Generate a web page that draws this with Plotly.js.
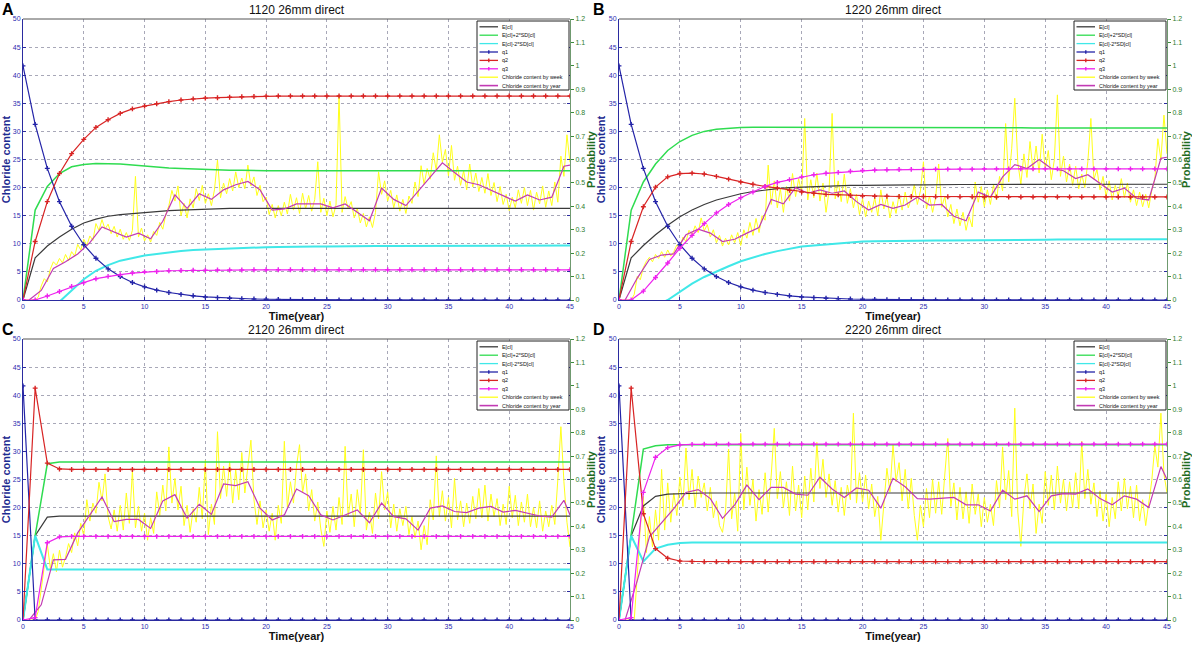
<!DOCTYPE html>
<html><head><meta charset="utf-8">
<script src="https://cdn.plot.ly/plotly-3.0.1.min.js"></script>
<style>html,body{margin:0;padding:0;background:#fff;}#chart{width:1192px;height:646px;}</style>
</head><body><div id="chart"></div>
<script>
// ---------- data ----------
const yearTicks = [0,5,10,15,20,25,30,35,40,45];
const panelTitles = ['1120 26mm direct','1220 26mm direct','2120 26mm direct','2220 26mm direct'];
const panelLetters = ['A','B','C','D'];
const legendNames = ['E[cl]','E[cl]+2*SD[cl]','E[cl]-2*SD[cl]','q1','q2','q3','Chloride content by week','Chloride content by year'];

// values at t = 0,1,...,45 (years)
const A_E  = [0,7.5,9.6,11.2,12.6,13.7,14.4,14.9,15.2,15.4,15.6,15.8,15.9,16.0,16.1,16.2,16.2,16.3,16.3,16.3,16.3,16.3,16.3,16.3,16.3,16.3,16.3,16.3,16.3,16.3,16.3,16.3,16.3,16.3,16.3,16.3,16.3,16.3,16.3,16.3,16.3,16.3,16.3,16.3,16.3,16.3];
const A_Ep = [0,16,20.2,22.5,23.7,24.1,24.3,24.3,24.2,24.0,23.8,23.6,23.5,23.4,23.3,23.2,23.2,23.1,23.1,23.0,23.0,23.0,23.0,23.0,23.0,23.0,23.0,23.0,23.0,23.0,23.0,23.0,23.0,23.0,23.0,23.0,23.0,23.0,23.0,23.0,23.0,23.0,23.0,23.0,23.0,23.0];
const A_Em = [0,-1.0,-1.0,-0.3,1.7,3.7,5.2,6.2,7.0,7.5,7.9,8.2,8.5,8.7,8.9,9.0,9.1,9.2,9.3,9.35,9.4,9.45,9.5,9.5,9.5,9.5,9.55,9.55,9.55,9.6,9.6,9.6,9.6,9.6,9.6,9.65,9.65,9.65,9.65,9.65,9.7,9.7,9.7,9.7,9.7,9.7];
const A_q1 = [1,0.75,0.562,0.42,0.315,0.236,0.178,0.133,0.1,0.075,0.056,0.042,0.032,0.024,0.018,0.013,0.01,0.0075,0.0056,0.0042,0.0032,0.0024,0.0018,0.0013,0.001,0.0008,0.0006,0.0004,0.0003,0.0002,0.0002,0,0,0,0,0,0,0,0,0,0,0,0,0,0,0];
const A_q2 = [0,0.25,0.42,0.54,0.625,0.686,0.737,0.77,0.797,0.816,0.828,0.838,0.847,0.854,0.859,0.862,0.864,0.866,0.868,0.869,0.87,0.871,0.871,0.871,0.871,0.871,0.871,0.871,0.871,0.871,0.871,0.871,0.871,0.871,0.871,0.871,0.871,0.871,0.871,0.871,0.871,0.871,0.871,0.871,0.871,0.871];
const A_q3 = [0,0,0.017,0.036,0.058,0.074,0.091,0.101,0.108,0.115,0.12,0.122,0.125,0.126,0.127,0.127,0.128,0.128,0.128,0.129,0.129,0.129,0.129,0.129,0.129,0.129,0.129,0.129,0.129,0.129,0.129,0.129,0.129,0.129,0.129,0.129,0.129,0.129,0.129,0.129,0.129,0.129,0.129,0.129,0.129,0.129];

const B_E  = [0,7.5,9.7,11.6,13.3,14.8,16.0,17.0,17.8,18.4,18.9,19.3,19.6,19.8,20.0,20.1,20.2,20.3,20.35,20.4,20.4,20.45,20.5,20.5,20.5,20.5,20.55,20.55,20.55,20.55,20.55,20.6,20.6,20.6,20.6,20.6,20.6,20.6,20.6,20.6,20.6,20.6,20.6,20.6,20.6,20.6];
const B_Ep = [0,16,21.0,24.2,26.6,28.2,29.3,30.0,30.4,30.6,30.7,30.75,30.75,30.7,30.7,30.7,30.7,30.7,30.7,30.7,30.7,30.7,30.7,30.7,30.65,30.65,30.65,30.65,30.65,30.65,30.65,30.65,30.65,30.65,30.6,30.6,30.6,30.6,30.6,30.6,30.6,30.6,30.6,30.6,30.6,30.6];
const B_Em = [0,-1.0,-1.6,-1.0,0.0,1.5,2.9,4.1,5.1,6.0,6.9,7.6,8.2,8.7,9.1,9.5,9.7,9.9,10.1,10.3,10.4,10.45,10.5,10.5,10.55,10.55,10.6,10.6,10.6,10.65,10.65,10.65,10.7,10.7,10.7,10.7,10.75,10.75,10.75,10.75,10.8,10.8,10.8,10.8,10.8,10.8];
const B_q1 = [1,0.75,0.562,0.42,0.315,0.236,0.178,0.133,0.1,0.075,0.056,0.042,0.032,0.024,0.018,0.013,0.01,0.0075,0.0056,0.0042,0.0032,0.0024,0.0018,0.0013,0.001,0.0008,0.0006,0.0004,0.0003,0.0002,0.0002,0,0,0,0,0,0,0,0,0,0,0,0,0,0,0];
const B_q2 = [0,0.25,0.398,0.482,0.526,0.54,0.542,0.538,0.528,0.516,0.504,0.494,0.485,0.478,0.468,0.461,0.456,0.451,0.449,0.446,0.444,0.443,0.443,0.442,0.442,0.442,0.441,0.441,0.441,0.441,0.44,0.44,0.44,0.44,0.44,0.44,0.44,0.44,0.44,0.44,0.44,0.44,0.44,0.44,0.44,0.44];
const B_q3 = [0,0,0.038,0.096,0.158,0.221,0.276,0.326,0.372,0.408,0.437,0.461,0.485,0.502,0.514,0.526,0.535,0.541,0.545,0.55,0.553,0.555,0.556,0.557,0.558,0.558,0.559,0.559,0.559,0.559,0.56,0.56,0.56,0.56,0.56,0.56,0.56,0.56,0.56,0.56,0.56,0.56,0.56,0.56,0.56,0.56];

const C_E  = [0,15,18.3,18.5,18.5,18.5,18.5,18.5,18.5,18.5,18.5,18.5,18.5,18.5,18.5,18.5,18.5,18.5,18.5,18.5,18.5,18.5,18.5,18.5,18.5,18.5,18.5,18.5,18.5,18.5,18.5,18.5,18.5,18.5,18.5,18.5,18.5,18.5,18.5,18.5,18.5,18.5,18.5,18.5,18.5,18.5];
const C_Ep = [0,15,27.8,28.1,28.1,28.1,28.1,28.1,28.1,28.1,28.1,28.1,28.1,28.1,28.1,28.1,28.1,28.1,28.1,28.1,28.1,28.1,28.1,28.1,28.1,28.1,28.1,28.1,28.1,28.1,28.1,28.1,28.1,28.1,28.1,28.1,28.1,28.1,28.1,28.1,28.1,28.1,28.1,28.1,28.1,28.1];
const C_Em = [0,15,9.0,9.0,9.0,9.0,9.0,9.0,9.0,9.0,9.0,9.0,9.0,9.0,9.0,9.0,9.0,9.0,9.0,9.0,9.0,9.0,9.0,9.0,9.0,9.0,9.0,9.0,9.0,9.0,9.0,9.0,9.0,9.0,9.0,9.0,9.0,9.0,9.0,9.0,9.0,9.0,9.0,9.0,9.0,9.0];
const C_q1 = [1,0,0,0,0,0,0,0,0,0,0,0,0,0,0,0,0,0,0,0,0,0,0,0,0,0,0,0,0,0,0,0,0,0,0,0,0,0,0,0,0,0,0,0,0,0];
const C_q2 = [0,0.99,0.67,0.645,0.643,0.643,0.643,0.643,0.643,0.643,0.643,0.643,0.643,0.643,0.643,0.643,0.643,0.643,0.643,0.643,0.643,0.643,0.643,0.643,0.643,0.643,0.643,0.643,0.643,0.643,0.643,0.643,0.643,0.643,0.643,0.643,0.643,0.643,0.643,0.643,0.643,0.643,0.643,0.643,0.643,0.643];
const C_q3 = [0,0.01,0.33,0.355,0.357,0.357,0.357,0.357,0.357,0.357,0.357,0.357,0.357,0.357,0.357,0.357,0.357,0.357,0.357,0.357,0.357,0.357,0.357,0.357,0.357,0.357,0.357,0.357,0.357,0.357,0.357,0.357,0.357,0.357,0.357,0.357,0.357,0.357,0.357,0.357,0.357,0.357,0.357,0.357,0.357,0.357];

const D_E  = [0,15,20.3,22.0,22.4,22.5,22.6,22.6,22.6,22.6,22.6,22.6,22.6,22.6,22.6,22.6,22.6,22.6,22.6,22.6,22.6,22.6,22.6,22.6,22.6,22.6,22.6,22.6,22.6,22.6,22.6,22.6,22.6,22.6,22.6,22.6,22.6,22.6,22.6,22.6,22.6,22.6,22.6,22.6,22.6,22.6];
const D_Ep = [0,15,30.4,31.0,31.2,31.2,31.2,31.2,31.2,31.2,31.2,31.2,31.2,31.2,31.2,31.2,31.2,31.2,31.2,31.2,31.2,31.2,31.2,31.2,31.2,31.2,31.2,31.2,31.2,31.2,31.2,31.2,31.2,31.2,31.2,31.2,31.2,31.2,31.2,31.2,31.2,31.2,31.2,31.2,31.2,31.2];
const D_Em = [0,15,10.4,12.7,13.4,13.7,13.8,13.8,13.8,13.8,13.8,13.8,13.8,13.8,13.8,13.8,13.8,13.8,13.8,13.8,13.8,13.8,13.8,13.8,13.8,13.8,13.8,13.8,13.8,13.8,13.8,13.8,13.8,13.8,13.8,13.8,13.8,13.8,13.8,13.8,13.8,13.8,13.8,13.8,13.8,13.8];
const D_q1 = [1,0,0,0,0,0,0,0,0,0,0,0,0,0,0,0,0,0,0,0,0,0,0,0,0,0,0,0,0,0,0,0,0,0,0,0,0,0,0,0,0,0,0,0,0,0];
const D_q2 = [0,0.99,0.454,0.305,0.264,0.252,0.25,0.249,0.249,0.249,0.249,0.249,0.249,0.249,0.249,0.249,0.249,0.249,0.249,0.249,0.249,0.249,0.249,0.249,0.249,0.249,0.249,0.249,0.249,0.249,0.249,0.249,0.249,0.249,0.249,0.249,0.249,0.249,0.249,0.249,0.249,0.249,0.249,0.249,0.249,0.249];
const D_q3 = [0,0.01,0.545,0.695,0.736,0.748,0.75,0.751,0.751,0.751,0.751,0.751,0.751,0.751,0.751,0.751,0.751,0.751,0.751,0.751,0.751,0.751,0.751,0.751,0.751,0.751,0.751,0.751,0.751,0.751,0.751,0.751,0.751,0.751,0.751,0.751,0.751,0.751,0.751,0.751,0.751,0.751,0.751,0.751,0.751,0.751];

// yearly chloride content: t = 0.5,1.5,...,44.5 and 45
const A_year = [0,1.7,5.6,6.8,8.2,10.2,13.0,12.1,11.2,11.9,10.9,14.0,18.7,16.3,18.9,17.9,19.6,20.5,21.1,19.6,16.0,16.2,17.1,17.1,17.1,16.4,17.1,15.6,14.1,19.9,17.9,16.8,19.4,21.9,24.4,22.7,21.0,20.5,19.5,18.5,17.6,18.7,17.8,18.3,23.8,24.0];
const B_year = [0,3.9,7.2,8.0,8.2,11.6,12.6,11.9,10.4,10.8,11.9,12.9,17.9,17.1,20.0,19.0,19.6,19.0,19.4,17.5,16.0,17.0,16.3,16.9,18.3,16.9,17.0,14.9,14.1,19.2,18.3,21.9,24.1,23.4,25.0,23.4,23.0,21.6,22.3,20.7,19.2,19.9,18.1,17.8,25.2,25.4];
const C_year = [0,2.7,10.7,10.8,15.5,18.8,21.9,17.5,17.9,17.9,16.3,21.2,22.3,18.1,20.6,18.8,24.2,23.9,24.6,19.9,17.8,18.7,23.3,22.1,18.7,17.8,18.7,19.6,17.3,20.8,18.4,18.0,16.0,19.9,20.3,19.3,19.1,19.9,20.2,19.2,19.5,19.0,18.5,18.3,21.3,18.7];
const D_year = [0,7.0,14.8,17.3,19.8,22.7,23.2,21.6,18.1,20.5,24.0,21.4,23.6,23.6,22.4,22.2,25.4,23.3,21.8,23.5,23.1,19.9,25.2,23.7,21.6,21.5,21.6,21.8,20.5,20.5,19.4,23.1,21.5,22.1,19.3,22.1,22.5,22.4,23.3,21.6,20.5,22.1,21.5,20.0,27.3,25.0];

// chloride content sampled each quarter year: t = 0,0.25,...,45 (one row per year)
const A_week = [
0,0,0,0, 0,0.5,2.5,3.8, 3.2,5.5,6.8,6.2, 7.4,6.6,8.1,7.0, 8.6,7.8,9.9,8.9,
10.8,9.7,11.4,10.6, 13.6,12.4,14.3,12.6, 13.5,11.8,13.1,11.2, 12.6,10.8,12.0,10.6, 12.4,22.0,11.2,12.8,
10.5,11.6,10.3,12.2, 11.5,13.8,12.6,15.2, 16.8,19.5,17.6,20.3, 15.0,17.2,14.6,18.0, 16.4,19.8,17.7,20.4,
17.2,18.9,16.8,19.6, 24.9,18.2,20.8,18.9, 21.6,19.4,22.8,20.0, 21.7,19.8,24.0,20.3, 21.9,18.6,20.4,17.5,
18.3,15.2,17.0,14.6, 16.8,15.0,17.4,15.3, 18.8,16.0,18.2,15.4, 19.0,16.2,18.6,15.8, 17.9,24.6,15.6,18.1,
15.0,17.6,14.8,16.9, 36.5,15.6,18.4,16.2, 17.5,14.6,16.3,13.7, 15.4,13.0,14.8,12.9, 15.6,22.8,18.8,21.2,
17.6,19.5,16.4,18.7, 15.8,17.9,15.4,18.5, 17.2,21.0,18.4,23.9, 20.6,23.4,21.5,26.2, 23.0,29.4,24.5,26.8,
22.1,27.5,21.3,23.8, 20.4,23.0,19.6,24.2, 20.1,22.6,19.3,21.8, 19.0,22.5,18.6,20.9, 17.5,20.2,17.0,18.8,
15.9,18.3,16.4,19.6, 17.2,20.0,16.8,19.5, 16.0,19.2,17.1,20.3, 16.5,19.4,16.8,21.0, 17.4,25.6,22.0,29.4,
24.5];
const B_week = [
0,0,0,0, 0,1.0,4.2,3.6, 5.8,6.9,7.6,6.8, 8.1,7.4,8.6,7.6, 8.9,7.8,8.6,9.8,
9.2,11.2,10.4,12.4, 11.6,13.2,12.0,14.6, 12.3,13.4,11.2,12.5, 10.2,11.5,9.6,11.0, 9.8,11.6,10.2,12.0,
9.7,12.5,11.0,13.8, 11.5,14.5,12.0,15.0, 14.2,24.0,17.0,21.2, 16.4,19.8,15.6,20.2, 17.6,22.5,18.4,21.6,
19.0,32.3,17.8,21.4, 18.2,22.6,17.6,20.8, 15.6,19.4,33.2,18.0, 21.2,17.5,22.4,17.2, 19.8,16.4,18.8,15.2,
18.0,14.8,17.6,15.6, 18.2,15.0,19.6,16.2, 18.4,14.6,17.5,15.4, 18.8,16.0,19.2,16.4, 18.0,20.5,17.0,19.4,
24.6,16.2,18.5,15.6, 18.2,24.2,16.5,18.4, 14.8,17.0,13.6,16.2, 13.2,15.6,12.4,14.8, 13.0,21.0,17.4,20.2,
16.6,19.6,17.0,20.5, 17.8,22.0,19.4,31.4, 21.0,27.0,35.9,24.4, 20.6,26.0,21.8,28.2, 23.0,27.4,22.6,29.5,
23.2,26.6,21.4,25.0, 36.5,22.0,25.6,21.0, 24.2,20.4,23.8,19.8, 22.4,20.0,24.6,32.3, 21.5,23.2,19.6,22.0,
18.4,21.2,17.8,20.4, 18.5,21.6,18.2,20.8, 17.4,19.6,16.8,19.2, 16.6,18.8,16.4,19.5, 21.5,28.7,25.0,32.9,
26.0];
const C_week = [
0,0,0,0, 0,1.5,5.5,9.0, 13.5,9.2,11.8,8.6, 12.4,9.4,11.2,13.6, 12.0,15.5,13.2,17.2,
15.0,21.4,17.6,20.8, 19.0,24.5,21.2,26.0, 18.4,16.2,19.6,15.8, 20.4,16.0,22.6,17.2, 26.5,16.4,20.2,15.8,
19.0,14.2,18.2,15.4, 22.8,18.6,24.0,19.4, 30.8,20.8,25.2,19.6, 23.8,16.8,20.4,15.6, 19.8,17.4,23.6,18.0,
28.4,15.2,20.6,17.0, 33.5,21.6,27.4,22.0, 28.2,20.8,26.8,21.4, 29.8,22.6,27.2,32.0, 21.4,17.0,21.2,16.4,
19.6,15.8,19.0,14.2, 20.4,17.2,31.8,20.0, 24.6,20.8,27.4,31.2, 22.6,26.0,19.4,23.2, 17.6,21.0,16.2,13.1,
19.4,15.6,20.2,16.0, 21.8,17.0,30.9,18.4, 22.4,16.6,23.2,18.8, 30.3,16.0,19.2,15.4, 22.6,18.0,26.4,19.6,
22.8,16.4,20.6,15.8, 19.8,16.8,20.2,15.2, 18.4,14.6,17.6,12.5, 16.8,13.4,21.4,17.8, 29.2,18.4,23.0,17.6,
21.8,16.4,25.2,17.8, 21.2,16.6,20.8,17.2, 22.0,18.0,23.4,18.2, 24.0,17.6,22.4,18.4, 21.6,16.8,20.6,17.0,
23.8,18.2,22.2,16.8, 21.0,17.4,22.4,16.6, 20.0,16.4,21.2,15.8, 19.4,16.6,20.4,17.0, 25.0,34.4,24.6,17.4,
13.0];
const D_week = [
0,0,0,0, 0,0,8.0,16.5, 22.0,12.0,18.4,13.0, 19.6,14.2,26.8,16.0, 24.4,17.4,22.6,18.6,
25.4,20.2,30.6,21.4, 26.8,20.0,25.6,21.8, 24.4,19.4,23.6,18.2, 21.2,16.8,15.6,19.4, 30.4,18.0,22.6,15.8,
33.2,19.6,27.2,20.4, 25.0,17.6,23.2,18.8, 26.2,19.2,25.8,34.1, 21.6,26.4,20.0,24.6, 18.6,27.4,19.4,24.0,
18.2,25.6,19.6,27.0, 21.0,31.6,23.4,28.6, 21.8,26.0,20.4,24.8, 19.2,23.6,18.6,24.0, 21.4,36.8,20.8,26.2,
21.0,25.8,19.8,24.2, 18.4,22.0,14.2,20.6, 27.0,22.8,31.2,24.6, 28.0,21.2,26.8,19.8, 25.2,18.6,14.2,20.4,
16.6,23.4,18.2,25.0, 19.0,24.6,18.8,25.8, 32.3,20.2,24.4,17.8, 23.6,18.0,22.8,17.2, 24.2,18.8,22.4,16.6,
21.8,17.4,20.6,16.8, 24.8,20.0,30.8,21.4, 26.6,18.4,37.7,19.2, 13.1,21.6,26.0,19.8, 24.2,15.4,20.6,17.2,
26.4,20.4,25.8,19.6, 27.4,20.8,25.0,19.4, 24.6,20.0,26.2,19.8, 31.8,21.6,26.8,20.6, 24.4,18.4,23.0,17.6,
22.4,16.6,21.8,18.0, 24.6,19.4,25.2,19.8, 23.8,18.2,24.0,17.6, 21.4,16.8,20.4,24.8, 31.0,27.2,36.8,26.0,
22.6];

// ---------- construction ----------
const tYear = A_E.map((_, i) => i);
const tHalf = A_year.map((_, i) => (i < A_year.length - 1 ? i + 0.5 : 45));
const tWeek = A_week.map((_, i) => i * 0.25);

const COL = {E:'#3a3a3a', Ep:'#2fdc50', Em:'#40e8e8', q1:'#2424a8', q2:'#d82424', q3:'#ee22ee', week:'#ffff1a', year:'#c23ab4'};
const FONT = 'Liberation Sans, Arial, sans-serif';

const L = 23, R = 1167, T = 19, B = 620;
const fx = px => (px - L) / (R - L);
const fy = py => (B - py) / (B - T);

const panels = [
  {E:A_E, Ep:A_Ep, Em:A_Em, q1:A_q1, q2:A_q2, q3:A_q3, week:A_week, year:A_year, px:[23,570], py:[19,300]},
  {E:B_E, Ep:B_Ep, Em:B_Em, q1:B_q1, q2:B_q2, q3:B_q3, week:B_week, year:B_year, px:[619,1167], py:[19,300]},
  {E:C_E, Ep:C_Ep, Em:C_Em, q1:C_q1, q2:C_q2, q3:C_q3, week:C_week, year:C_year, px:[23,570], py:[339,620]},
  {E:D_E, Ep:D_Ep, Em:D_Em, q1:D_q1, q2:D_q2, q3:D_q3, week:D_week, year:D_year, px:[619,1167], py:[339,620]}
];

const traces = [];
const layout = {
  width: 1192, height: 646,
  margin: {l: L, r: 1192 - R, t: T, b: 646 - B, pad: 0},
  paper_bgcolor: '#fff', plot_bgcolor: '#fff',
  showlegend: false, hovermode: false,
  font: {family: FONT, size: 7, color: '#222'},
  annotations: [], shapes: []
};

panels.forEach((p, k) => {
  const xa = k === 0 ? 'x' : 'x' + (k + 1);
  const yl = k === 0 ? 'y' : 'y' + (2 * k + 1);
  const yr = 'y' + (2 * k + 2);
  const line = (x, y, c, w, ax) => ({type:'scatter', mode:'lines', x:x, y:y, xaxis:xa, yaxis:ax || yl,
    line:{color:c, width:w}, hoverinfo:'skip'});
  const qline = (y, c) => ({type:'scatter', mode:'lines+markers', x:tYear, y:y, xaxis:xa, yaxis:yr,
    line:{color:c, width:1.2}, marker:{symbol:'cross-thin', size:3.5, line:{color:c, width:1.4}}, hoverinfo:'skip'});

  traces.push(line(tWeek, p.week, COL.week, 1));
  traces.push(line(tYear, p.E, COL.E, 1.2));
  traces.push(line(tYear, p.Ep, COL.Ep, 1.5));
  traces.push(line(tYear, p.Em, COL.Em, 2));
  traces.push(line(tHalf, p.year, COL.year, 1.2));
  traces.push(qline(p.q1, COL.q1));
  traces.push(qline(p.q2, COL.q2));
  traces.push(qline(p.q3, COL.q3));

  const xKey = 'xaxis' + (k === 0 ? '' : k + 1);
  const ylKey = 'yaxis' + (k === 0 ? '' : 2 * k + 1);
  const yrKey = 'yaxis' + (2 * k + 2);

  layout[xKey] = {
    domain: [fx(p.px[0]), fx(p.px[1])], anchor: yl, range: [0, 45],
    tickvals: yearTicks, ticks: 'inside', ticklen: 3, tickcolor: '#2b2ba0',
    showline: true, linecolor: '#2b2ba0', linewidth: 1, zeroline: false,
    showgrid: true, gridcolor: '#a8a8b8', griddash: 'dot', gridwidth: 1,
    tickfont: {size: 7, color: '#2b2bb0', family: FONT}, automargin: false,
    title: {text: 'Time(year)', font: {size: 11, color: '#111', family: FONT, weight: 'bold'}, standoff: 2}
  };
  layout[ylKey] = {
    domain: [fy(p.py[1]), fy(p.py[0])], anchor: xa, range: [0, 50], dtick: 5, tick0: 0,
    ticks: 'inside', ticklen: 3, tickcolor: '#2b2ba0', mirror: 'ticks',
    showline: true, linecolor: '#2b2ba0', linewidth: 1, zeroline: false,
    showgrid: true, gridcolor: '#a8a8b8', griddash: 'dot', gridwidth: 1,
    tickfont: {size: 7, color: '#2b2bb0', family: FONT}, automargin: false,
    title: {text: 'Chloride content', font: {size: 11, color: '#1c2a90', family: FONT, weight: 'bold'}, standoff: 0}
  };
  layout[yrKey] = {
    overlaying: yl, side: 'right', anchor: xa, range: [0, 1.2], dtick: 0.1, tick0: 0,
    ticks: 'outside', ticklen: 3, tickcolor: '#3c8c3c',
    showline: true, linecolor: '#6f9a6f', linewidth: 1, zeroline: false, showgrid: false,
    tickfont: {size: 7, color: '#2e7d2e', family: FONT}, automargin: false,
    title: {text: 'Probability', font: {size: 11, color: '#1f6b1f', family: FONT, weight: 'bold'}, standoff: 2}
  };

  // top frame line
  layout.shapes.push({type:'line', xref:'paper', yref:'paper', x0:fx(p.px[0]), x1:fx(p.px[1]), y0:fy(p.py[0]), y1:fy(p.py[0]),
    line:{color:'#555', width:1}});

  // panel title and letter
  layout.annotations.push({xref:'paper', yref:'paper', x:fx((p.px[0]+p.px[1])/2), y:fy(p.py[0]-9), text:panelTitles[k],
    showarrow:false, xanchor:'center', yanchor:'middle', font:{size:12, color:'#111', family:FONT}});
  layout.annotations.push({xref:'paper', yref:'paper', x:fx(p.px[0]-(k % 2 ? 28 : 23)), y:fy(p.py[0]-10), text:panelLetters[k],
    showarrow:false, xanchor:'left', yanchor:'middle', font:{size:16, color:'#000', family:FONT, weight:'bold'}});

  // legend box
  const bl = p.px[1] - 93, br = p.px[1] - 1, bt = p.py[0] + 2, bb = p.py[0] + 71;
  layout.shapes.push({type:'rect', xref:'paper', yref:'paper', x0:fx(bl), x1:fx(br), y0:fy(bb), y1:fy(bt),
    fillcolor:'#fff', line:{color:'#222', width:1}});
  const sampleCols = [COL.E, COL.Ep, COL.Em, COL.q1, COL.q2, COL.q3, COL.week, COL.year];
  legendNames.forEach((name, i) => {
    const yy = bt + 5.8 + 8.4 * i;
    layout.shapes.push({type:'line', xref:'paper', yref:'paper', x0:fx(bl + 2.5), x1:fx(bl + 21), y0:fy(yy), y1:fy(yy),
      line:{color:sampleCols[i], width: i === 7 ? 1.6 : 1.3}});
    if (i >= 3 && i <= 5) {
      layout.shapes.push({type:'line', xref:'paper', yref:'paper', x0:fx(bl + 11.8), x1:fx(bl + 11.8), y0:fy(yy - 1.8), y1:fy(yy + 1.8),
        line:{color:sampleCols[i], width:1.4}});
    }
    layout.annotations.push({xref:'paper', yref:'paper', x:fx(bl + 23), y:fy(yy), text:name, showarrow:false,
      xanchor:'left', yanchor:'middle', font:{size:5.4, color:'#111', family:FONT}});
  });
});

Plotly.newPlot('chart', traces, layout, {staticPlot: true, displayModeBar: false});
</script></body></html>
